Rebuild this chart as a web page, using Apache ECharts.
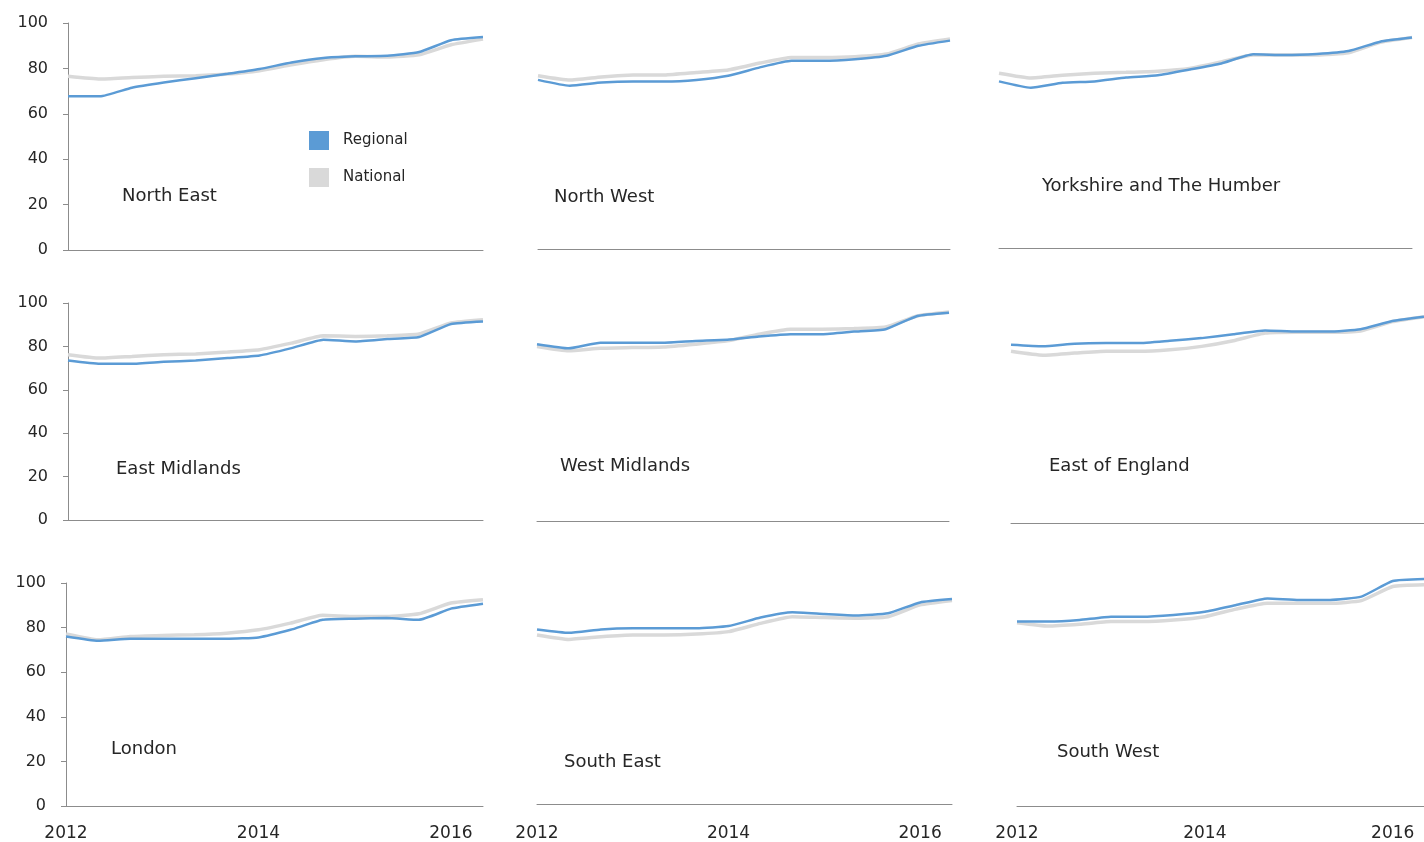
<!DOCTYPE html>
<html>
<head>
<meta charset="utf-8">
<script src="https://cdn.jsdelivr.net/npm/echarts@6/dist/echarts.min.js"></script>
<style>
html,body{margin:0;padding:0;background:#fff;}
#chart{width:1424px;height:842px;}
</style>
</head>
<body>
<div id="chart"></div>
<script>
// ---- DATA ----
const periods = ['2012 T1','2012 T2','2012 T3','2013 T1','2013 T2','2013 T3','2014 T1','2014 T2','2014 T3','2015 T1','2015 T2','2015 T3','2016 T1','2016 T2'];
const tickYears = ['2012','2014','2016'];
const yTicks = [0,20,40,60,80,100];
const seriesNames = ['Regional','National'];
const regionNames = ['North East','North West','Yorkshire and The Humber','East Midlands','West Midlands','East of England','London','South East','South West'];

const neRegional = [67.7,67.7,71.5,73.8,75.7,77.6,79.7,82.6,84.6,85.3,85.6,87.2,92.4,93.8];
const neNational = [76.5,75.3,76.0,76.5,76.8,77.5,79.0,81.6,83.8,85.3,85.0,86.0,90.4,92.9];
const nwRegional = [74.5,71.9,73.3,73.8,73.8,74.5,76.3,80.0,82.9,82.9,83.6,85.1,89.5,91.8];
const nwNational = [76.3,74.4,75.8,76.6,76.7,77.8,78.9,81.9,84.4,84.4,84.7,85.9,90.3,92.5];
const yhRegional = [73.4,70.6,72.8,73.4,75.1,76.1,78.6,81.3,85.3,85.0,85.5,86.8,90.9,92.7];
const yhNational = [77.0,74.9,76.1,77.0,77.4,77.9,79.1,82.0,85.0,85.0,85.0,86.0,90.6,92.7];
const emRegional = [73.5,72.0,72.0,72.9,73.5,74.6,75.8,79.2,83.1,82.3,83.4,84.3,90.3,91.5];
const emNational = [76.2,74.6,75.4,76.2,76.5,77.4,78.5,81.5,84.9,84.6,84.9,85.7,90.8,92.3];
const wmRegional = [81.5,79.6,82.2,82.2,82.2,83.0,83.5,85.0,86.1,86.1,87.3,88.4,94.5,96.0];
const wmNational = [80.4,78.4,79.6,79.9,80.2,81.5,83.0,86.1,88.4,88.4,88.7,89.4,94.5,96.3];
const eeRegional = [82.1,81.4,82.6,82.9,82.9,84.0,85.2,87.0,88.7,88.2,88.2,89.3,93.1,95.1];
const eeNational = [79.1,77.3,78.3,79.1,79.1,79.8,81.4,84.0,87.5,87.9,87.9,88.5,92.8,95.1];
const ldRegional = [76.0,74.1,75.0,75.0,75.0,75.0,75.6,79.0,83.5,84.0,84.3,83.5,88.5,90.7];
const ldNational = [77.1,74.5,76.0,76.5,76.8,77.5,79.0,82.0,85.5,85.0,85.0,86.2,91.0,92.5];
const seRegional = [78.3,76.8,78.3,78.8,78.8,78.8,79.8,83.6,86.0,85.2,84.5,85.5,90.4,91.9];
const seNational = [75.8,73.8,75.0,75.8,75.8,76.2,77.3,81.0,84.0,83.6,83.3,84.0,89.3,91.3];
const swRegional = [82.7,82.7,83.4,84.9,84.9,85.7,87.1,90.1,93.1,92.4,92.4,93.9,100.9,101.8];
const swNational = [82.2,80.7,81.5,82.7,82.7,83.4,84.9,88.3,90.9,90.9,90.9,92.1,98.4,99.2];

const regionalData = [neRegional,nwRegional,yhRegional,emRegional,wmRegional,eeRegional,ldRegional,seRegional,swRegional];
const nationalData = [neNational,nwNational,yhNational,emNational,wmNational,eeNational,ldNational,seNational,swNational];

// ---- LAYOUT ----
const layout = [
  {left:68, top:23, width:415, height:227, lx:122, ly:196},
  {left:538, top:22, width:412, height:227, lx:554, ly:197},
  {left:999, top:21, width:413, height:227, lx:1042, ly:186},
  {left:68, top:303, width:415, height:217, lx:116, ly:469},
  {left:537, top:304, width:412, height:217, lx:560, ly:466},
  {left:1011, top:306, width:416, height:217, lx:1049, ly:466},
  {left:66, top:583, width:417, height:223, lx:111, ly:749},
  {left:537, top:581, width:415, height:223, lx:564, ly:762},
  {left:1017, top:583, width:416, height:223, lx:1057, ly:752}
];

const BLUE = '#5B9BD5', GREY = '#D9D9D9', AXIS = '#8C8C8C', TXT = '#262626';
const FONT = '"DejaVu Sans", Verdana, sans-serif';

const grid = [], xAxis = [], yAxis = [], series = [], graphic = [];
layout.forEach((g, i) => {
  const col = i % 3, row = Math.floor(i / 3);
  const base = g.top + g.height;
  grid.push({left:g.left, top:g.top, width:g.width, height:g.height, containLabel:false});
  xAxis.push({
    type:'category', gridIndex:i, data:periods, boundaryGap:false,
    axisLine:{show:true, lineStyle:{color:AXIS, width:1}},
    axisTick:{show:false},
    splitLine:{show:false},
    axisLabel:{
      show: row === 2, fontFamily:FONT, fontSize:17, color:TXT, margin:825 - base,
      interval:(idx, v) => tickYears.indexOf(v.slice(0,4)) >= 0 && (idx % 6 === 0),
      formatter:(v) => v.slice(0,4)
    }
  });
  yAxis.push({
    type:'value', gridIndex:i, min:yTicks[0], max:yTicks[yTicks.length-1], interval:20,
    show: col === 0,
    axisLine:{show:true, lineStyle:{color:AXIS, width:1}},
    axisTick:{show:true, length:5, lineStyle:{color:AXIS}},
    splitLine:{show:false},
    axisLabel:{fontFamily:FONT, fontSize:16, color:TXT, margin:20}
  });
  series.push({
    name:seriesNames[1], type:'line', xAxisIndex:i, yAxisIndex:i,
    data:nationalData[i], showSymbol:false, smooth:0.15, clip:false, z:2,
    lineStyle:{color:GREY, width:3.5}, itemStyle:{color:GREY}
  });
  series.push({
    name:seriesNames[0], type:'line', xAxisIndex:i, yAxisIndex:i,
    data:regionalData[i], showSymbol:false, smooth:0.15, clip:false, z:3,
    lineStyle:{color:BLUE, width:2.5}, itemStyle:{color:BLUE}
  });
  graphic.push({
    type:'text', left:g.lx, top:g.ly - 9,
    style:{text:regionNames[i], font:'18px ' + FONT, fill:TXT}
  });
});

const chart = echarts.init(document.getElementById('chart'), null, {renderer:'canvas'});
chart.setOption({
  animation:false,
  backgroundColor:'#ffffff',
  grid, xAxis, yAxis, series, graphic,
  legend:{
    data:seriesNames, orient:'vertical', left:309, top:131, padding:0,
    itemWidth:20, itemHeight:19, itemGap:18, icon:'rect',
    textStyle:{fontFamily:FONT, fontSize:15, color:TXT, padding:[0,0,0,9]},
    selectedMode:false
  }
});
</script>
</body>
</html>
